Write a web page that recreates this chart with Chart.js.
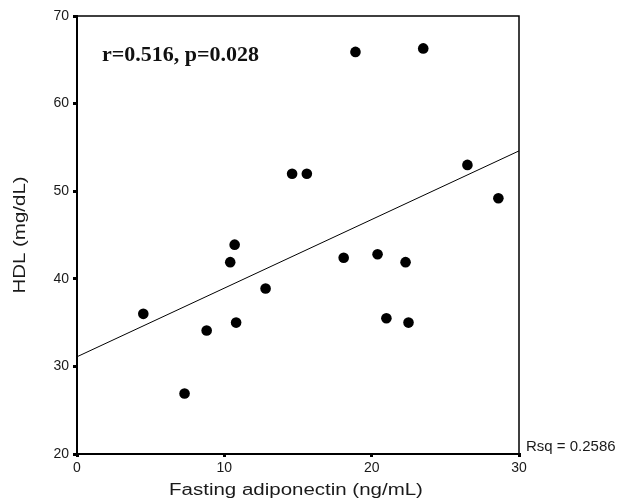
<!DOCTYPE html>
<html>
<head>
<meta charset="utf-8">
<script src="https://cdn.jsdelivr.net/npm/chart.js@4.4.1/dist/chart.umd.min.js"></script>
<style>
    body { margin: 0; background: #fff; }
    #caixa { width: 619px; height: 502px; }
</style>
</head>
<body>
<div id="caixa"><canvas id="grafico"></canvas></div>
<script>
// valores
const adiponectina = [4.5, 7.3, 8.8, 10.4, 10.7, 10.8, 12.8, 14.6, 15.6, 18.1, 18.9, 20.4, 21.0, 22.3, 22.5, 23.5, 26.5, 28.6]
const hdl = [36.0, 26.9, 34.1, 41.9, 43.9, 35.0, 38.9, 52.0, 52.0, 42.4, 65.9, 42.8, 35.5, 41.9, 35.0, 66.3, 53.0, 49.2]

// reta de regressão (extremos)
const retaX = [0, 30]
const retaY = [31.1, 54.6]

const ticksX = [0, 10, 20, 30]
const ticksY = [20, 30, 40, 50, 60, 70]

const tituloX = 'Fasting adiponectin (ng/mL)'
const tituloY = 'HDL (mg/dL)'
const textoCorrelacao = 'r=0.516, p=0.028'
const textoRsq = 'Rsq = 0.2586'

const pontos = adiponectina.map((x, i) => ({ x: x, y: hdl[i] }))
const reta = retaX.map((x, i) => ({ x: x, y: retaY[i] }))

// o original tem as letras dos títulos alargadas
function textoLargo(ctx, texto, x, y, rotacao) {
    ctx.save()
    ctx.translate(x, y)
    ctx.rotate(rotacao)
    ctx.scale(1.28, 1)
    ctx.fillText(texto, 0, 0)
    ctx.restore()
}

const textosExtras = {
    id: 'textosExtras',
    afterDraw(chart) {
        const { ctx, chartArea } = chart
        ctx.save()

        // moldura em cima e na direita
        ctx.strokeStyle = '#000'
        ctx.lineWidth = 1.5
        ctx.beginPath()
        ctx.moveTo(chartArea.left, chartArea.top)
        ctx.lineTo(chartArea.right, chartArea.top)
        ctx.lineTo(chartArea.right, chartArea.bottom)
        ctx.stroke()

        ctx.fillStyle = '#111'
        ctx.font = 'bold 22px "Liberation Serif", "Times New Roman", serif'
        ctx.textAlign = 'left'
        ctx.textBaseline = 'alphabetic'
        ctx.fillText(textoCorrelacao, chartArea.left + 25, chartArea.top + 45)

        ctx.font = '15px "Liberation Sans", Arial, sans-serif'
        ctx.fillStyle = '#1a1a1a'
        ctx.fillText(textoRsq, chartArea.right + 7, chartArea.bottom - 3)

        ctx.font = '16px "Liberation Sans", Arial, sans-serif'
        ctx.textAlign = 'center'
        textoLargo(ctx, tituloX, (chartArea.left + chartArea.right) / 2 - 2, 495, 0)
        textoLargo(ctx, tituloY, 25, (chartArea.top + chartArea.bottom) / 2, -Math.PI / 2)
        ctx.restore()
    }
}

const ctx = document.getElementById('grafico').getContext('2d')
new Chart(ctx, {
    type: 'scatter',
    data: {
        datasets: [{
            label: 'HDL',
            data: pontos,
            backgroundColor: '#000',
            borderColor: '#000',
            borderWidth: 0,
            pointRadius: 5.3,
            pointHoverRadius: 5.3
        }, {
            type: 'line',
            label: 'Rsq',
            data: reta,
            borderColor: '#000',
            borderWidth: 1,
            pointRadius: 0,
            fill: false
        }]
    },
    options: {
        responsive: true,
        maintainAspectRatio: false,
        animation: false,
        layout: {
            padding: { top: 16, right: 100, left: 0, bottom: 0 }
        },
        scales: {
            x: {
                type: 'linear',
                min: 0,
                max: 30,
                afterBuildTicks: scale => { scale.ticks = ticksX.map(v => ({ value: v })) },
                afterFit: scale => { scale.height = 48 },
                border: { display: true, color: '#000', width: 2 },
                grid: { drawOnChartArea: false, drawTicks: true, tickLength: 3, color: '#000', lineWidth: 3 },
                ticks: {
                    padding: 3,
                    color: '#1a1a1a',
                    font: { family: '"Liberation Sans", Arial, sans-serif', size: 14 }
                }
            },
            y: {
                type: 'linear',
                min: 20,
                max: 70,
                afterBuildTicks: scale => { scale.ticks = ticksY.map(v => ({ value: v })) },
                afterFit: scale => { scale.width = 77 },
                border: { display: true, color: '#000', width: 2 },
                grid: { drawOnChartArea: false, drawTicks: true, tickLength: 4, color: '#000', lineWidth: 3 },
                ticks: {
                    padding: 4,
                    color: '#1a1a1a',
                    font: { family: '"Liberation Sans", Arial, sans-serif', size: 14 }
                }
            }
        },
        plugins: {
            legend: { display: false },
            tooltip: { enabled: false }
        }
    },
    plugins: [textosExtras]
})
</script>
</body>
</html>
